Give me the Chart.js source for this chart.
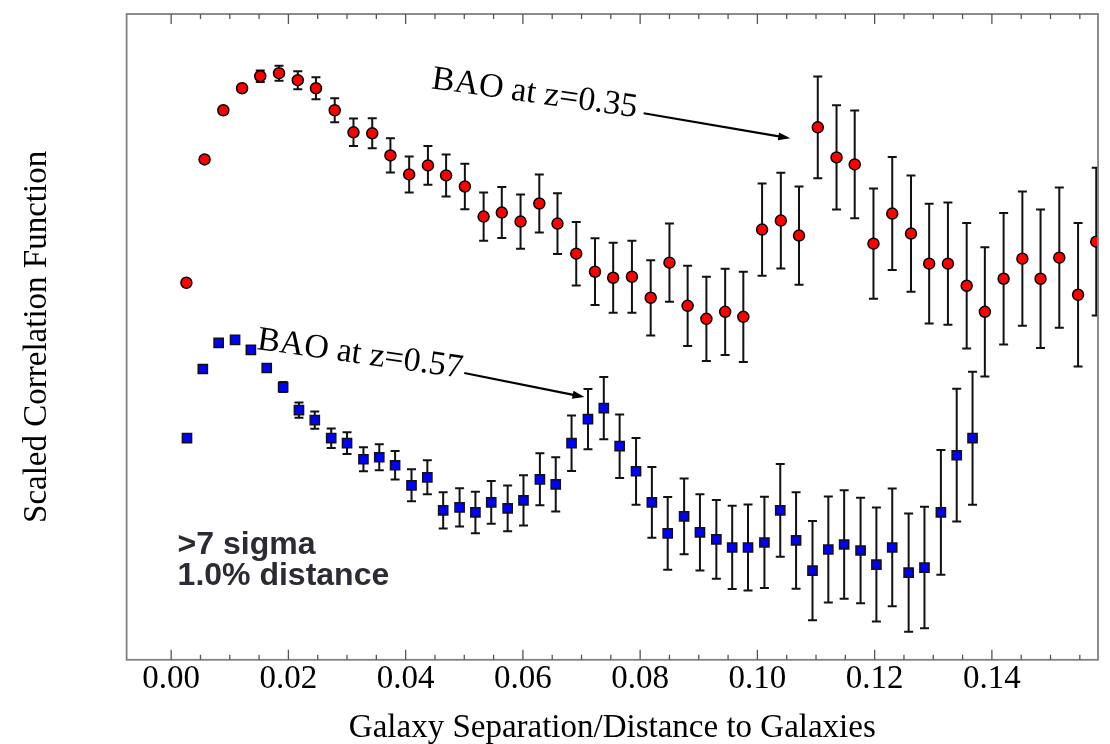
<!DOCTYPE html>
<html>
<head>
<meta charset="utf-8">
<script src="https://cdn.jsdelivr.net/npm/chart.js@4"></script>
<style>
  html, body { margin: 0; padding: 0; background: #fff; }
  #wrap { width: 1110px; height: 744px; }
</style>
</head>
<body>
<div id="wrap"><canvas id="bao"></canvas></div>
<script>
// x tick labels (only these are labelled)
const xTicks = [0.00, 0.02, 0.04, 0.06, 0.08, 0.10, 0.12, 0.14];
const minorStep = 0.005;

// z = 0.35 sample (red circles)
const redX = [0.0026, 0.0057, 0.0089, 0.0121, 0.0152, 0.0184, 0.0216, 0.0247, 0.0279, 0.0311,
              0.0343, 0.0374, 0.0406, 0.0438, 0.0469, 0.0501, 0.0533, 0.0564, 0.0596, 0.0628,
              0.0659, 0.0691, 0.0723, 0.0754, 0.0786, 0.0818, 0.0850, 0.0881, 0.0913, 0.0945,
              0.0976, 0.1008, 0.1040, 0.1071, 0.1103, 0.1135, 0.1166, 0.1198, 0.1230, 0.1262,
              0.1293, 0.1325, 0.1357, 0.1388, 0.1420, 0.1452, 0.1483, 0.1515, 0.1547, 0.1578];
const redY = [3.76, 4.99, 5.48, 5.70, 5.82, 5.85, 5.78, 5.70, 5.48, 5.26,
              5.25, 5.03, 4.84, 4.93, 4.83, 4.72, 4.42, 4.46, 4.37, 4.55,
              4.35, 4.05, 3.87, 3.81, 3.82, 3.61, 3.96, 3.53, 3.40, 3.47,
              3.42, 4.29, 4.38, 4.23, 5.31, 5.01, 4.94, 4.15, 4.45, 4.25,
              3.95, 3.95, 3.73, 3.47, 3.80, 4.00, 3.80, 4.01, 3.64, 4.17];
const redErr = [0, 0, 0, 0, 0.057, 0.075, 0.09, 0.11, 0.12, 0.137,
                0.15, 0.17, 0.18, 0.193, 0.21, 0.227, 0.24, 0.255, 0.27, 0.29,
                0.303, 0.317, 0.333, 0.35, 0.36, 0.375, 0.39, 0.40, 0.42, 0.43,
                0.45, 0.46, 0.477, 0.49, 0.507, 0.52, 0.537, 0.55, 0.563, 0.58,
                0.597, 0.61, 0.625, 0.645, 0.655, 0.67, 0.69, 0.70, 0.715, 0.737];

// z = 0.57 sample (blue squares)
const blueX = [0.0027, 0.0054, 0.0081, 0.0109, 0.0136, 0.0163, 0.0191, 0.0218, 0.0245, 0.0273,
               0.0300, 0.0328, 0.0355, 0.0382, 0.0410, 0.0437, 0.0464, 0.0492, 0.0519, 0.0546,
               0.0574, 0.0601, 0.0629, 0.0656, 0.0683, 0.0711, 0.0738, 0.0765, 0.0793, 0.0820,
               0.0847, 0.0875, 0.0902, 0.0930, 0.0957, 0.0984, 0.1012, 0.1039, 0.1066, 0.1094,
               0.1121, 0.1148, 0.1176, 0.1203, 0.1230, 0.1258, 0.1285, 0.1313, 0.1340, 0.1367];
const blueY = [2.21, 2.90, 3.16, 3.19, 3.09, 2.91, 2.72, 2.49, 2.39, 2.21,
               2.16, 2.00, 2.02, 1.94, 1.74, 1.82, 1.49, 1.52, 1.47, 1.57,
               1.51, 1.59, 1.80, 1.75, 2.16, 2.40, 2.51, 2.13, 1.88, 1.57,
               1.26, 1.43, 1.27, 1.20, 1.12, 1.12, 1.17, 1.49, 1.19, 0.89,
               1.10, 1.15, 1.09, 0.95, 1.12, 0.87, 0.92, 1.47, 2.04, 2.21];
const blueErr = [0, 0, 0, 0, 0, 0, 0.05, 0.075, 0.085, 0.097,
                 0.108, 0.12, 0.13, 0.142, 0.16, 0.17, 0.18, 0.19, 0.207, 0.213,
                 0.228, 0.25, 0.26, 0.27, 0.277, 0.30, 0.31, 0.317, 0.333, 0.353,
                 0.363, 0.378, 0.38, 0.393, 0.415, 0.428, 0.455, 0.463, 0.482, 0.495,
                 0.528, 0.542, 0.527, 0.568, 0.587, 0.59, 0.605, 0.622, 0.662, 0.663];

const errors = [redErr, blueErr];

// error bars, drawn under the markers
const errorBars = {
    id: 'errorBars',
    beforeDatasetsDraw(chart) {
        const { ctx, chartArea, scales: { x, y } } = chart;
        ctx.save();
        ctx.beginPath();
        ctx.rect(chartArea.left, chartArea.top, chartArea.right - chartArea.left, chartArea.bottom - chartArea.top);
        ctx.clip();
        ctx.strokeStyle = '#111';
        ctx.lineWidth = 2;
        chart.data.datasets.forEach((ds, d) => {
            ds.data.forEach((p, i) => {
                const e = errors[d][i];
                if (!e) return;
                const px = x.getPixelForValue(p.x);
                const top = y.getPixelForValue(p.y + e);
                const bot = y.getPixelForValue(p.y - e);
                ctx.beginPath();
                ctx.moveTo(px, top); ctx.lineTo(px, bot);
                ctx.moveTo(px - 4.5, top); ctx.lineTo(px + 4.5, top);
                ctx.moveTo(px - 4.5, bot); ctx.lineTo(px + 4.5, bot);
                ctx.stroke();
            });
        });
        ctx.restore();
    }
};

function arrow(ctx, x1, y1, x2, y2) {
    const a = Math.atan2(y2 - y1, x2 - x1);
    ctx.beginPath();
    ctx.moveTo(x1, y1);
    ctx.lineTo(x2 - 10 * Math.cos(a), y2 - 10 * Math.sin(a));
    ctx.stroke();
    ctx.beginPath();
    ctx.moveTo(x2, y2);
    ctx.lineTo(x2 - 12 * Math.cos(a) + 4 * Math.sin(a), y2 - 12 * Math.sin(a) - 4 * Math.cos(a));
    ctx.lineTo(x2 - 12 * Math.cos(a) - 4 * Math.sin(a), y2 - 12 * Math.sin(a) + 4 * Math.cos(a));
    ctx.closePath();
    ctx.fill();
}

// frame, inward ticks and the annotations
const decorations = {
    id: 'decorations',
    afterDatasetsDraw(chart) {
        const { ctx, chartArea: ca, scales: { x, y } } = chart;
        ctx.save();
        ctx.strokeStyle = '#808080';
        ctx.lineWidth = 1.8;
        ctx.strokeRect(ca.left, ca.top, ca.right - ca.left, ca.bottom - ca.top);
        ctx.strokeStyle = '#555';
        ctx.lineWidth = 1.3;
        for (let k = 0; k * minorStep <= x.max; k++) {
            const v = k * minorStep;
            const px = x.getPixelForValue(v);
            const len = (k % 4 === 0) ? 10 : 5;
            ctx.beginPath();
            ctx.moveTo(px, ca.bottom); ctx.lineTo(px, ca.bottom - len);
            ctx.moveTo(px, ca.top); ctx.lineTo(px, ca.top + len);
            ctx.stroke();
        }

        ctx.fillStyle = '#000';
        ctx.strokeStyle = '#000';
        ctx.lineWidth = 2.2;
        ctx.font = '34px "Liberation Serif", serif';
        ctx.textBaseline = 'alphabetic';
        const notes = [
            { text: 'BAO at z=0.35', x: 0.0443, y: 5.70, ax1: 0.0806, ay1: 5.45, ax2: 0.1056, ay2: 5.20 },
            { text: 'BAO at z=0.57', x: 0.0145, y: 3.10, ax1: 0.0500, ay1: 2.86, ax2: 0.0705, ay2: 2.62 }
        ];
        notes.forEach(n => {
            ctx.save();
            ctx.translate(x.getPixelForValue(n.x), y.getPixelForValue(n.y));
            ctx.rotate(8 * Math.PI / 180);
            ctx.fillText(n.text, 0, 0);
            ctx.restore();
            arrow(ctx, x.getPixelForValue(n.ax1), y.getPixelForValue(n.ay1),
                  x.getPixelForValue(n.ax2), y.getPixelForValue(n.ay2));
        });

        ctx.fillStyle = '#2b2b33';
        ctx.font = 'bold 32px "Liberation Sans", Arial, sans-serif';
        ctx.fillText('>7 sigma', x.getPixelForValue(0.0011), y.getPixelForValue(1.06));
        ctx.fillText('1.0% distance', x.getPixelForValue(0.0011), y.getPixelForValue(0.75));
        ctx.restore();
    }
};

new Chart(document.getElementById('bao'), {
    type: 'scatter',
    data: {
        datasets: [{
            label: 'z=0.35',
            data: redX.map((v, i) => ({ x: v, y: redY[i] })),
            pointStyle: 'circle',
            pointRadius: 5.5,
            backgroundColor: '#ff0000',
            borderColor: '#000',
            borderWidth: 1.5,
            clip: 0
        }, {
            label: 'z=0.57',
            data: blueX.map((v, i) => ({ x: v, y: blueY[i] })),
            pointStyle: 'rect',
            pointRadius: 6.5,
            backgroundColor: '#0000ff',
            borderColor: '#111',
            borderWidth: 1.5,
            clip: 0
        }]
    },
    options: {
        responsive: true,
        maintainAspectRatio: false,
        animation: false,
        events: [],
        layout: { padding: { left: 18, right: 12, top: 14, bottom: -4 } },
        plugins: { legend: { display: false }, tooltip: { enabled: false } },
        scales: {
            x: {
                type: 'linear',
                min: -0.0076,
                max: 0.1581,
                grid: { display: false, drawTicks: false },
                border: { display: false },
                afterBuildTicks: s => { s.ticks = xTicks.map(v => ({ value: v })); },
                ticks: {
                    padding: 0,
                    color: '#000',
                    font: { family: '"Liberation Serif", serif', size: 33 },
                    callback: v => v.toFixed(2)
                },
                title: {
                    display: true,
                    text: 'Galaxy Separation/Distance to Galaxies',
                    color: '#000',
                    font: { family: '"Liberation Serif", serif', size: 33 },
                    padding: { top: 9, bottom: 0 }
                }
            },
            y: {
                min: 0,
                max: 6.44,
                grid: { display: false, drawTicks: false },
                border: { display: false },
                ticks: { display: false },
                title: {
                    display: true,
                    text: 'Scaled Correlation Function',
                    color: '#000',
                    font: { family: '"Liberation Serif", serif', size: 33 },
                    padding: { top: 0, bottom: 69 }
                }
            }
        }
    },
    plugins: [errorBars, decorations]
});
</script>
</body>
</html>
